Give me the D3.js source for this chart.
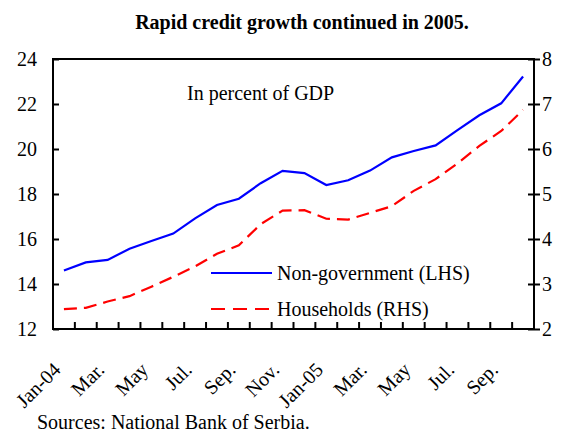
<!DOCTYPE html>
<html>
<head>
<meta charset="utf-8">
<script src="https://cdn.jsdelivr.net/npm/d3@7"></script>
<style>
  body { margin: 0; background: #fff; }
  svg text { font-family: 'Liberation Serif', 'Times New Roman', serif; fill: #000; }
</style>
</head>
<body>
<svg id="chart"></svg>
<script>
// months on the category axis
const months = ['Jan-04','Feb-04','Mar-04','Apr-04','May-04','Jun-04','Jul-04','Aug-04','Sep-04','Oct-04','Nov-04','Dec-04',
                'Jan-05','Feb-05','Mar-05','Apr-05','May-05','Jun-05','Jul-05','Aug-05','Sep-05','Oct-05'];
const tickLabels = ['Jan-04','','Mar.','','May','','Jul.','','Sep.','','Nov.','',
                    'Jan-05','','Mar.','','May','','Jul.','','Sep.',''];
// Non-government credit, % of GDP (LHS)
const nonGov = [14.6, 14.96, 15.07, 15.57, 15.91, 16.24, 16.92, 17.51, 17.79, 18.48, 19.03, 18.93,
                18.4, 18.61, 19.04, 19.63, 19.91, 20.16, 20.84, 21.5, 22.03, 23.22];
// Household credit, % of GDP (RHS)
const households = [2.44, 2.47, 2.61, 2.73, 2.94, 3.16, 3.39, 3.67, 3.86, 4.33, 4.63, 4.64,
                    4.45, 4.43, 4.58, 4.73, 5.07, 5.33, 5.68, 6.07, 6.4, 6.87];
const leftTicks = [12, 14, 16, 18, 20, 22, 24];
const rightTicks = [2, 3, 4, 5, 6, 7, 8];

const width = 561, height = 432;
const margin = { top: 59, right: 27, bottom: 103, left: 53 };
const innerWidth = width - margin.left - margin.right;
const innerHeight = height - margin.top - margin.bottom;
const FONT = "'Liberation Serif', 'Times New Roman', serif";

const root = d3.select('#chart').attr('width', width).attr('height', height);

// Заголовок
root.append('text')
  .attr('x', 302).attr('y', 29)
  .attr('text-anchor', 'middle')
  .style('font-family', FONT)
  .style('font-size', '20px').style('font-weight', 'bold')
  .text('Rapid credit growth continued in 2005.');

const svg = root.append('g').attr('transform', `translate(${margin.left},${margin.top})`);

const x = d3.scaleBand().domain(months).range([0, innerWidth]).padding(0);
const yL = d3.scaleLinear().domain([12, 24]).range([innerHeight, 0]);
const yR = d3.scaleLinear().domain([2, 8]).range([innerHeight, 0]);
const cx = m => x(m) + x.bandwidth() / 2;

// Left axis, ticks inward
const axL = svg.append('g')
  .call(d3.axisLeft(yL).tickValues(leftTicks).tickFormat(d3.format('d'))
    .tickSizeInner(-6).tickSizeOuter(0).tickPadding(16))
  .attr('font-family', null).attr('font-size', null);
axL.select('.domain').remove();
axL.selectAll('.tick line').attr('stroke', '#000').attr('stroke-width', 2);
axL.selectAll('text').style('font-size', '20px').style('font-family', FONT);

// Right axis, ticks crossing
const axR = svg.append('g')
  .attr('transform', `translate(${innerWidth},0)`)
  .call(d3.axisRight(yR).tickValues(rightTicks).tickFormat(d3.format('d'))
    .tickSizeInner(6).tickSizeOuter(0).tickPadding(2))
  .attr('font-family', null).attr('font-size', null);
axR.select('.domain').remove();
axR.selectAll('.tick').append('line').attr('x2', -6);
axR.selectAll('.tick line').attr('stroke', '#000').attr('stroke-width', 2);
axR.selectAll('text').style('font-size', '20px').style('font-family', FONT);

// Bottom ticks at category boundaries, pointing up
svg.append('g').selectAll('line')
  .data(months.slice(1))
  .join('line')
  .attr('x1', d => x(d)).attr('x2', d => x(d))
  .attr('y1', innerHeight).attr('y2', innerHeight - 7)
  .attr('stroke', '#000').attr('stroke-width', 2);

// Подписи оси X (только непустые)
svg.append('g').selectAll('text')
  .data(months.filter((d, i) => tickLabels[i] !== ''))
  .join('text')
  .attr('transform', d => `translate(${cx(d) - 2},${innerHeight + 42}) rotate(-45)`)
  .attr('text-anchor', 'end')
  .style('font-family', FONT)
  .style('font-size', '20px')
  .text(d => tickLabels[months.indexOf(d)]);

// Рамка
svg.append('rect')
  .attr('width', innerWidth).attr('height', innerHeight)
  .attr('fill', 'none').attr('stroke', '#000').attr('stroke-width', 2);

// Линии
const lineL = d3.line().x((d, i) => cx(months[i])).y(d => yL(d));
const lineR = d3.line().x((d, i) => cx(months[i])).y(d => yR(d));

svg.append('path').datum(nonGov)
  .attr('d', lineL).attr('fill', 'none')
  .attr('stroke', '#0000ff').attr('stroke-width', 2.2);

svg.append('path').datum(households)
  .attr('d', lineR).attr('fill', 'none')
  .attr('stroke', '#ff0000').attr('stroke-width', 2.2)
  .attr('stroke-dasharray', '13,7');

// Annotation
svg.append('text')
  .attr('x', 134).attr('y', 41)
  .style('font-family', FONT)
  .style('font-size', '20px')
  .text('In percent of GDP');

// Легенда
const legend = svg.append('g');
legend.append('line')
  .attr('x1', 158).attr('x2', 219).attr('y1', 214).attr('y2', 214)
  .attr('stroke', '#0000ff').attr('stroke-width', 2.2);
legend.append('text').attr('x', 224).attr('y', 221)
  .style('font-family', FONT).style('font-size', '20px').text('Non-government (LHS)');
legend.append('line')
  .attr('x1', 158).attr('x2', 219).attr('y1', 250).attr('y2', 250)
  .attr('stroke', '#ff0000').attr('stroke-width', 2.2)
  .attr('stroke-dasharray', '14,8');
legend.append('text').attr('x', 224).attr('y', 257)
  .style('font-family', FONT).style('font-size', '20px').text('Households (RHS)');

// Источник
root.append('text')
  .attr('x', 37).attr('y', 429)
  .style('font-family', FONT)
  .style('font-size', '20px')
  .text('Sources: National Bank of Serbia.');
</script>
</body>
</html>
